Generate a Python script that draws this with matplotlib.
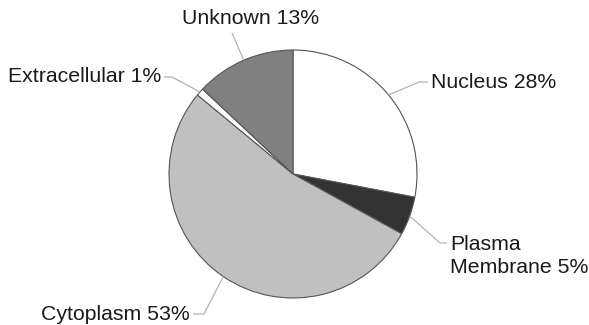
# Subcellular localization of identified proteins

import numpy as np
import matplotlib
matplotlib.use('Agg')
import matplotlib.pyplot as plt

compartments = ['Nucleus', 'Plasma\nMembrane', 'Cytoplasm', 'Extracellular', 'Unknown']
percents = [28, 5, 53, 1, 13]
colors = ['#ffffff', '#333333', '#c0c0c0', '#ffffff', '#808080']

W, H = 589, 325


def flip(x, y):
    # image-style coordinates (y down) to axes data (y up)
    return x, H - y


def plot():
    plt.rcParams['font.family'] = ['Liberation Sans', 'DejaVu Sans']
    fig = plt.figure(figsize=(W / 100, H / 100), dpi=100)
    ax = fig.add_axes([0, 0, 1, 1])

    cx, cy = flip(293, 174)
    radius = 124
    wedges, _ = ax.pie(percents, colors=colors, startangle=90, counterclock=False,
                       center=(cx, cy), radius=radius, frame=True,
                       wedgeprops=dict(edgecolor='#555555', linewidth=0.8))
    ax.set_xlim(0, W)
    ax.set_ylim(0, H)
    ax.set_aspect('equal')
    ax.axis('off')

    # label text position (left/right anchor), elbow point, alignment
    layout = [
        ((431, 82), (419, 82), 'left'),
        ((450, 256), (440, 243), 'left'),
        ((190, 314), (204, 314), 'right'),
        ((161, 77), (172, 77), 'right'),
        ((251, 18), (232, 33), 'center'),
    ]

    for wedge, name, pct, (tpos, elbow, ha) in zip(wedges, compartments,
                                                    percents, layout):
        mid = np.deg2rad((wedge.theta1 + wedge.theta2) / 2)
        px, py = cx + radius * np.cos(mid), cy + radius * np.sin(mid)
        ex, ey = flip(*elbow)
        tx, ty = flip(*tpos)
        if ha == 'center':
            xs, ys = [px, ex], [py, ey]
        else:
            end = tx - 3 if ha == 'left' else tx + 3
            xs, ys = [px, ex, end], [py, ey, ey]
        ax.plot(xs, ys, color='#b3b3b3', linewidth=0.9, solid_capstyle='butt')
        ax.text(tx, ty, f'{name} {pct}%', ha=ha, va='center', fontsize=15.3,
                color='#1a1a1a', linespacing=1.32)

    fig.savefig('out.png', dpi=100, facecolor='white')


plot()
